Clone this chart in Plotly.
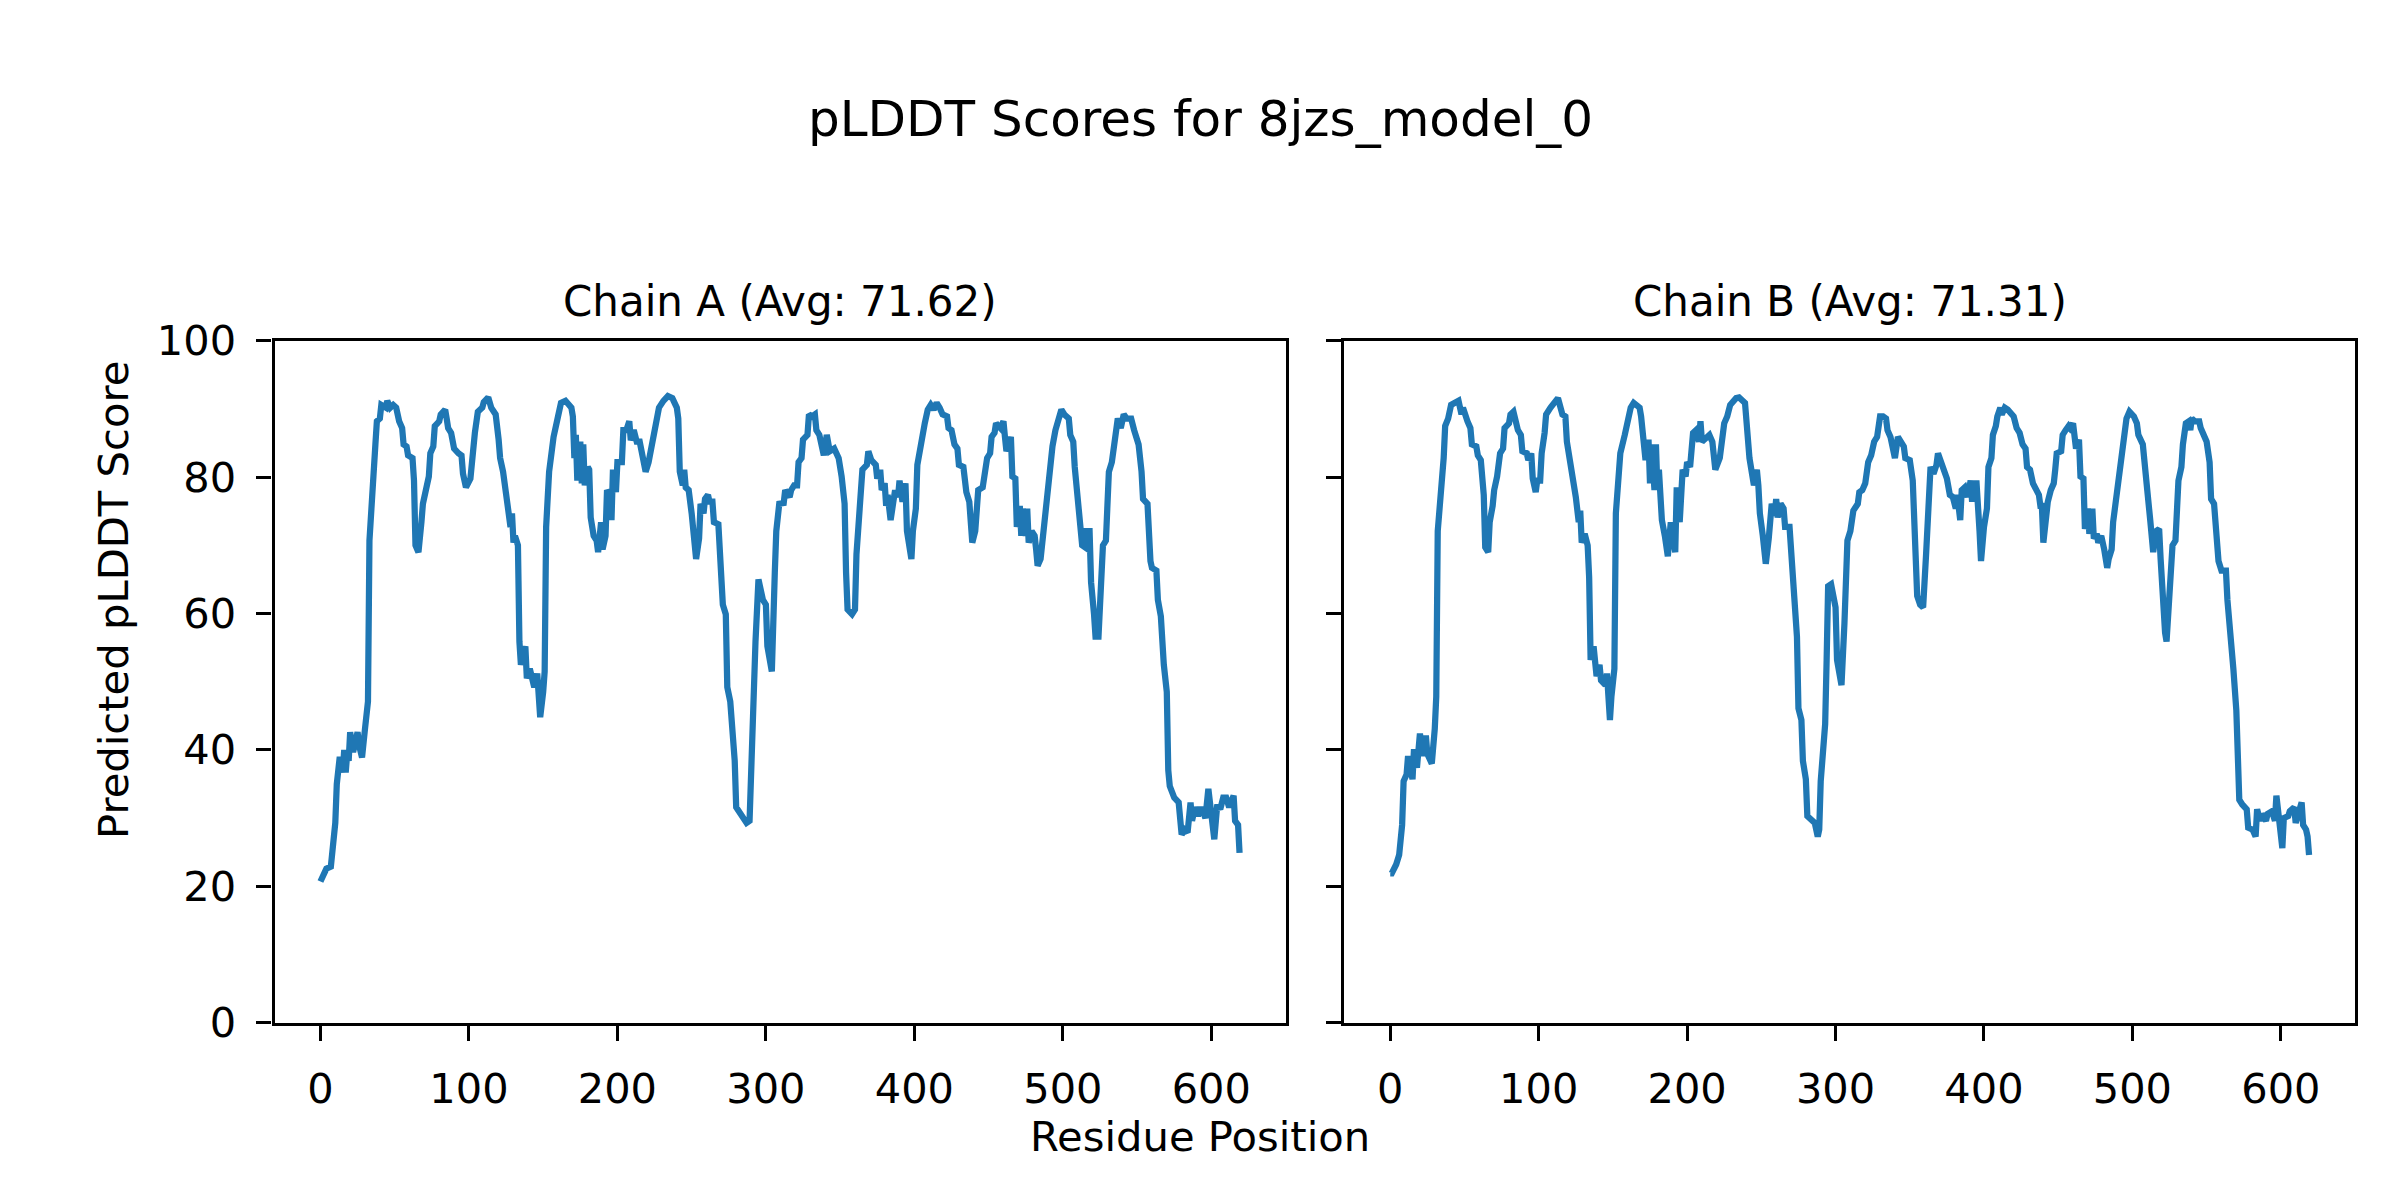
import plotly.graph_objects as go

# ---------------- data ----------------
chain_a_pos = [0, 2, 4, 7, 8, 10, 11, 12, 13, 15, 16, 17, 18, 19, 20, 22, 25, 26, 28, 30,
               32, 33, 35, 37, 38, 40, 41, 44, 45, 47, 49, 51, 53, 55, 56, 58, 59, 62, 63, 64,
               66, 67, 68, 69, 71, 73, 74, 76, 77, 80, 81, 83, 84, 85, 86, 88, 90, 93, 95, 96,
               98, 101, 102, 104, 106, 109, 110, 113, 115, 118, 120, 121, 123, 125, 127, 128, 129, 130, 131, 133,
               134, 135, 138, 139, 141, 143, 144, 146, 148, 150, 151, 152, 154, 156, 157, 160, 162, 165, 167, 169,
               170, 171, 172, 173, 175, 176, 177, 178, 180, 181, 182, 184, 186, 187, 189, 190, 192, 193, 195, 196,
               197, 199, 200, 203, 204, 206, 208, 209, 211, 213, 215, 217, 219, 221, 223, 225, 226, 228, 231, 234,
               237, 240, 241, 242, 244, 245, 246, 248, 250, 251, 253, 255, 256, 258, 259, 261, 262, 264, 265, 268,
               269, 271, 273, 274, 276, 278, 279, 280, 283, 285, 287, 289, 290, 291, 292, 293, 295, 298, 300, 301,
               304, 305, 306, 307, 309, 312, 313, 316, 317, 319, 321, 322, 324, 325, 328, 329, 331, 333, 334, 336,
               339, 341, 343, 346, 348, 349, 351, 353, 354, 355, 358, 360, 361, 363, 365, 368, 369, 371, 374, 375,
               377, 378, 380, 381, 382, 384, 387, 389, 390, 392, 394, 395, 398, 399, 401, 402, 405, 407, 409, 411,
               413, 415, 417, 419, 422, 423, 425, 427, 429, 430, 433, 434, 435, 437, 439, 441, 442, 443, 446, 447,
               449, 451, 452, 454, 455, 458, 460, 461, 462, 465, 466, 468, 469, 471, 472, 473, 475, 476, 477, 479,
               481, 482, 483, 485, 487, 489, 491, 493, 495, 497, 499, 501, 504, 505, 507, 508, 510, 512, 513, 515,
               516, 518, 519, 521, 522, 524, 525, 527, 529, 530, 531, 533, 535, 537, 539, 541, 543, 546, 548, 551,
               553, 554, 557, 558, 559, 560, 563, 564, 566, 568, 570, 571, 572, 575, 577, 578, 580, 582, 584, 586,
               587, 589, 591, 593, 595, 596, 598, 600, 602, 604, 606, 608, 610, 612, 615, 616, 618, 619]
chain_a_plddt = [20.7, 21.5, 22.6, 22.9, 25.6, 29.3, 35.0, 36.4, 39.0, 36.7, 40.0, 36.7, 39.4, 38.4, 42.6, 39.7, 42.6, 40.7, 38.9, 43.1,
                 47.1, 70.7, 80.1, 84.8, 88.2, 88.6, 90.6, 90.2, 91.2, 90.2, 90.6, 90.2, 88.2, 87.2, 84.8, 84.5, 83.2, 82.8, 79.5, 70.0,
                 69.0, 73.1, 73.4, 76.1, 78.1, 80.1, 83.5, 84.5, 87.5, 88.2, 89.2, 89.6, 89.9, 88.6, 87.2, 86.5, 84.2, 83.5, 83.2, 80.5,
                 78.5, 79.8, 83.2, 86.5, 89.6, 90.2, 91.0, 91.7, 90.2, 89.2, 85.5, 82.8, 80.8, 77.4, 74.1, 72.7, 74.7, 70.4, 71.4, 70.0,
                 55.9, 52.5, 55.2, 50.5, 51.9, 49.8, 49.2, 51.2, 44.8, 48.5, 51.5, 72.7, 80.8, 84.2, 85.9, 88.9, 90.9, 91.2, 90.6, 90.2,
                 88.9, 82.8, 86.2, 79.5, 85.2, 79.1, 84.8, 78.8, 81.5, 81.1, 74.1, 71.4, 70.7, 69.0, 73.4, 69.4, 71.4, 78.1, 77.4, 73.7,
                 81.1, 77.8, 82.2, 82.2, 86.9, 86.9, 88.2, 85.4, 86.9, 85.2, 85.2, 82.8, 80.8, 82.2, 84.8, 86.5, 88.9, 90.2, 91.2, 91.9,
                 91.6, 90.2, 88.6, 80.8, 78.8, 81.1, 78.5, 78.1, 74.7, 72.1, 68.0, 71.0, 76.1, 74.7, 76.8, 77.4, 76.4, 76.4, 73.4, 73.1,
                 68.7, 61.3, 59.9, 49.2, 47.1, 41.1, 38.4, 31.6, 30.6, 30.3, 29.3, 29.6, 37.0, 37.7, 45.8, 55.9, 65.0, 62.0, 61.3, 55.2,
                 51.5, 65.3, 66.0, 72.1, 76.1, 76.2, 78.1, 77.1, 78.1, 78.8, 78.8, 82.2, 82.8, 85.5, 86.2, 89.2, 88.9, 89.2, 86.9, 86.2,
                 83.2, 86.2, 83.8, 84.2, 82.8, 82.8, 80.1, 76.1, 66.0, 60.6, 59.9, 60.6, 68.7, 74.7, 81.1, 81.8, 83.8, 82.5, 81.8, 79.8,
                 81.1, 78.1, 79.1, 75.8, 77.4, 73.7, 78.1, 77.1, 79.5, 76.4, 79.1, 72.1, 68.0, 72.1, 75.4, 81.8, 86.2, 87.9, 89.9, 90.6,
                 89.9, 90.9, 90.2, 89.2, 88.9, 87.2, 86.9, 84.8, 84.2, 81.8, 81.5, 79.5, 77.8, 76.4, 70.4, 72.1, 76.1, 78.1, 78.5, 79.8,
                 82.8, 83.5, 85.9, 86.5, 87.9, 87.2, 88.2, 85.9, 83.8, 85.9, 80.1, 79.8, 72.7, 75.8, 71.4, 75.4, 71.4, 75.4, 70.4, 72.1,
                 71.4, 69.4, 67.0, 68.0, 72.7, 76.8, 81.8, 84.5, 86.9, 88.6, 89.9, 89.2, 88.6, 86.2, 85.2, 81.5, 76.6, 74.1, 70.0, 69.7,
                 72.1, 72.1, 64.6, 59.9, 56.6, 56.6, 61.3, 70.0, 70.7, 74.7, 80.8, 82.2, 85.2, 88.6, 87.2, 89.2, 88.6, 88.6, 86.9, 84.8,
                 80.8, 76.8, 76.1, 68.7, 67.7, 66.7, 66.3, 62.0, 59.6, 52.5, 48.5, 37.0, 34.7, 33.0, 32.3, 32.3, 27.6, 28.3, 27.9, 32.3,
                 29.6, 31.6, 30.3, 31.6, 30.6, 30.0, 34.3, 29.6, 26.9, 32.0, 31.3, 33.0, 33.0, 31.6, 33.3, 29.6, 29.0, 24.9]

chain_b_pos = [0, 1, 4, 6, 8, 9, 11, 12, 15, 16, 18, 20, 22, 24, 25, 28, 30, 31, 32, 34,
               36, 37, 39, 41, 43, 46, 48, 49, 52, 54, 55, 58, 59, 61, 63, 64, 66, 67, 69, 70,
               72, 74, 76, 77, 80, 81, 83, 86, 88, 89, 92, 93, 95, 96, 98, 99, 101, 102, 104, 105,
               108, 111, 113, 116, 118, 119, 122, 124, 125, 127, 128, 129, 131, 133, 134, 135, 137, 139, 141, 142,
               145, 146, 148, 149, 151, 152, 154, 155, 158, 160, 162, 164, 168, 169, 172, 174, 175, 176, 178, 179,
               180, 181, 183, 185, 187, 189, 192, 193, 195, 197, 199, 200, 202, 204, 206, 208, 209, 210, 212, 215,
               217, 218, 219, 222, 223, 225, 227, 229, 233, 235, 239, 240, 242, 245, 247, 248, 249, 251, 253, 255,
               257, 259, 260, 261, 263, 265, 266, 269, 271, 274, 275, 277, 278, 280, 281, 284, 286, 288, 289, 290,
               293, 294, 295, 297, 299, 300, 301, 304, 306, 307, 308, 310, 312, 315, 316, 318, 320, 322, 324, 326,
               328, 330, 332, 334, 335, 337, 339, 340, 342, 344, 346, 347, 350, 352, 353, 354, 355, 357, 359, 361,
               362, 364, 366, 368, 369, 371, 373, 374, 375, 377, 379, 381, 382, 384, 385, 387, 389, 391, 392, 393,
               395, 397, 398, 400, 402, 403, 405, 406, 408, 409, 411, 412, 414, 416, 418, 420, 422, 424, 426, 428,
               429, 431, 433, 435, 437, 438, 439, 440, 442, 443, 445, 447, 448, 449, 452, 453, 455, 457, 458, 460,
               462, 464, 465, 467, 468, 470, 471, 473, 474, 476, 477, 479, 481, 483, 484, 486, 487, 489, 491, 492,
               494, 495, 496, 498, 501, 503, 504, 507, 508, 509, 510, 512, 513, 514, 516, 518, 519, 520, 522, 523,
               524, 526, 527, 529, 530, 531, 533, 534, 536, 538, 539, 540, 542, 545, 546, 548, 550, 552, 553, 555,
               557, 558, 560, 563, 564, 566, 568, 570, 571, 572, 574, 577, 578, 581, 583, 584, 586, 587, 590, 591,
               594, 596, 597, 599, 601, 602, 605, 606, 609, 610, 612, 614, 615, 617, 618, 619]
chain_b_plddt = [21.9, 21.9, 23.2, 24.6, 29.0, 35.4, 36.4, 39.1, 35.7, 40.1, 37.4, 42.4, 39.1, 42.1, 39.4, 38.0, 43.1, 47.8, 72.1, 76.8,
                 82.8, 87.5, 88.6, 90.6, 90.9, 91.2, 89.2, 90.2, 88.2, 87.2, 84.8, 84.5, 83.2, 82.5, 77.4, 69.7, 69.0, 73.4, 75.8, 78.1,
                 80.1, 83.5, 84.2, 87.2, 87.9, 89.2, 89.6, 86.9, 86.2, 83.8, 83.5, 82.5, 83.5, 79.8, 77.8, 79.5, 79.5, 83.5, 86.5, 89.2,
                 90.2, 90.9, 91.6, 89.2, 88.9, 85.2, 81.5, 79.5, 77.1, 73.4, 75.1, 70.4, 71.7, 70.0, 65.3, 53.2, 55.2, 50.8, 52.5, 50.2,
                 49.5, 51.2, 44.4, 47.8, 51.9, 74.7, 80.8, 83.5, 86.2, 88.2, 90.2, 90.9, 90.2, 88.9, 82.5, 85.5, 79.1, 84.8, 78.1, 84.8,
                 78.1, 81.1, 73.7, 71.4, 68.4, 73.4, 69.0, 78.5, 73.4, 81.1, 80.1, 82.2, 81.5, 86.5, 86.9, 85.2, 88.2, 85.2, 85.5, 86.2,
                 85.2, 82.8, 81.1, 82.8, 84.8, 87.9, 88.9, 90.6, 91.6, 91.7, 90.9, 88.6, 82.8, 78.8, 81.1, 78.8, 74.7, 71.4, 67.3, 71.0,
                 76.1, 74.4, 76.8, 74.1, 76.1, 75.4, 72.7, 72.7, 64.6, 56.6, 46.1, 44.4, 38.4, 35.7, 30.3, 29.6, 29.3, 27.3, 28.3, 35.4,
                 43.8, 53.2, 64.0, 64.3, 61.3, 60.9, 53.2, 49.5, 58.6, 64.3, 70.7, 72.1, 75.1, 76.1, 77.8, 78.1, 79.1, 82.2, 83.2, 85.2,
                 85.9, 88.9, 88.9, 88.6, 86.9, 85.9, 83.2, 82.8, 85.9, 85.2, 84.5, 82.8, 82.5, 79.5, 74.1, 69.4, 62.6, 61.3, 60.9, 68.7,
                 74.1, 81.5, 80.5, 81.8, 83.5, 82.2, 81.5, 80.8, 79.8, 77.4, 77.1, 75.4, 77.4, 73.7, 78.1, 78.5, 77.1, 79.5, 76.4, 79.1,
                 79.1, 72.1, 67.7, 72.7, 75.4, 81.5, 82.8, 86.2, 87.5, 88.9, 90.2, 89.2, 90.2, 89.9, 89.2, 88.9, 87.2, 86.5, 84.8, 84.2,
                 81.5, 81.1, 79.1, 78.1, 77.4, 75.8, 75.8, 70.4, 75.4, 76.4, 78.1, 79.1, 81.1, 83.5, 83.8, 86.2, 86.9, 87.5, 87.2, 87.9,
                 84.2, 85.5, 80.1, 79.8, 72.4, 75.4, 71.7, 75.4, 71.0, 71.7, 70.4, 71.4, 69.4, 66.7, 68.0, 69.4, 73.4, 76.8, 81.5, 83.2,
                 86.2, 86.9, 88.6, 89.6, 88.9, 87.9, 86.2, 84.8, 81.8, 81.5, 78.1, 73.7, 70.0, 69.0, 72.1, 72.4, 68.0, 63.3, 57.2, 55.9,
                 59.3, 65.3, 70.0, 70.7, 74.7, 79.5, 81.5, 84.8, 87.9, 88.2, 86.9, 88.6, 88.2, 88.2, 87.2, 86.2, 85.2, 82.2, 76.8, 76.1,
                 68.4, 67.7, 66.3, 66.3, 62.0, 57.9, 51.9, 45.8, 35.0, 32.7, 32.0, 31.3, 28.6, 28.3, 27.3, 31.3, 29.6, 30.6, 29.6, 30.6,
                 31.0, 29.6, 33.3, 29.0, 25.6, 30.0, 30.3, 31.0, 31.6, 29.3, 30.6, 32.3, 29.0, 28.3, 27.3, 24.6]

chain_names = ["A", "B"]
chain_avgs = [71.62, 71.31]
main_title = "pLDDT Scores for 8jzs_model_0"
x_label = "Residue Position"
y_label = "Predicted pLDDT Score"
x_ticks = [0, 100, 200, 300, 400, 500, 600]
y_ticks = [0, 20, 40, 60, 80, 100]

# ---------------- figure ----------------
W, H = 2400, 1200
OFF = 8  # page body margin offset in px
FONT = "DejaVu Sans"
LINE_COLOR = "#1f77b4"


def px_x(p):
    return (p - OFF) / W


def px_y(p):
    return (H - (p - OFF)) / H


fig = go.Figure()
fig.add_trace(go.Scatter(x=chain_a_pos, y=chain_a_plddt, mode="lines",
                         line=dict(color=LINE_COLOR, width=6.25), xaxis="x", yaxis="y",
                         showlegend=False))
fig.add_trace(go.Scatter(x=chain_b_pos, y=chain_b_plddt, mode="lines",
                         line=dict(color=LINE_COLOR, width=6.25), xaxis="x2", yaxis="y2",
                         showlegend=False))

xmax = max(chain_a_pos[-1], chain_b_pos[-1])
pad = 0.05 * xmax
xr = [-pad, xmax + pad]

axis_common = dict(showline=True, linecolor="black", linewidth=3.3, mirror=True,
                   ticks="outside", ticklen=15, tickwidth=3.3, tickcolor="black",
                   showgrid=False, zeroline=False, automargin=False,
                   tickfont=dict(family=FONT, size=41.5, color="black"))

dom_a = [px_x(274.5), px_x(1285.5)]
dom_b = [px_x(1344.3), px_x(2355.0)]
dom_y = [px_y(1022.7), px_y(340.8)]

fig.update_layout(
    width=W, height=H, autosize=False,
    margin=dict(l=0, r=0, t=0, b=0, pad=0, autoexpand=False),
    paper_bgcolor="white", plot_bgcolor="white",
    font=dict(family=FONT, color="black"),
    showlegend=False,
    xaxis=dict(domain=dom_a, range=xr, tickvals=x_ticks, anchor="y",
               ticklabelstandoff=12, **axis_common),
    xaxis2=dict(domain=dom_b, range=xr, tickvals=x_ticks, anchor="y2",
                ticklabelstandoff=12, **axis_common),
    yaxis=dict(domain=dom_y, range=[0, 100], tickvals=y_ticks, anchor="x",
               ticklabelstandoff=12, **axis_common),
    yaxis2=dict(domain=dom_y, range=[0, 100], tickvals=y_ticks, anchor="x2",
                showticklabels=False, **axis_common),
)

annotations = [
    dict(text=main_title, x=px_x(1200), y=px_y(119.3), xref="paper", yref="paper",
         xanchor="center", yanchor="middle", showarrow=False,
         font=dict(family=FONT, size=50, color="black")),
    dict(text=f"Chain {chain_names[0]} (Avg: {chain_avgs[0]:.2f})",
         x=(dom_a[0] + dom_a[1]) / 2, y=px_y(301.7), xref="paper", yref="paper",
         xanchor="center", yanchor="middle", showarrow=False,
         font=dict(family=FONT, size=42, color="black")),
    dict(text=f"Chain {chain_names[1]} (Avg: {chain_avgs[1]:.2f})",
         x=(dom_b[0] + dom_b[1]) / 2, y=px_y(301.7), xref="paper", yref="paper",
         xanchor="center", yanchor="middle", showarrow=False,
         font=dict(family=FONT, size=42, color="black")),
    dict(text=x_label, x=px_x(1200), y=px_y(1136.5), xref="paper", yref="paper",
         xanchor="center", yanchor="middle", showarrow=False,
         font=dict(family=FONT, size=41.7, color="black")),
    dict(text=y_label, x=px_x(113), y=px_y(600), xref="paper", yref="paper",
         xanchor="center", yanchor="middle", showarrow=False, textangle=-90,
         font=dict(family=FONT, size=41.7, color="black")),
]
fig.update_layout(annotations=annotations)

fig.write_html("out.html")
